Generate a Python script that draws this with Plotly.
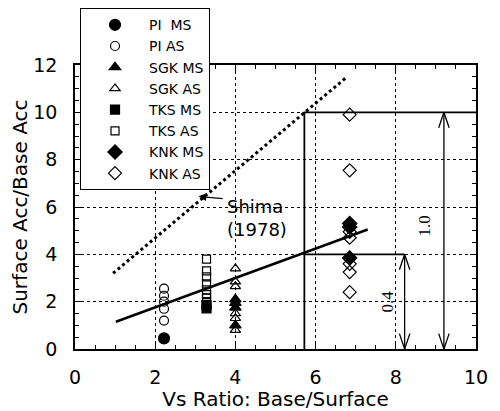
import plotly.graph_objects as go

# ---- data ----
pi_x = 2.22
pi_ms = [0.45]
pi_as = [2.55, 2.25, 2.0, 1.7, 1.2]

tks_x = 3.28
tks_ms = [1.85, 1.72]
tks_as = [3.8, 3.3, 3.05, 2.75, 2.5, 2.3, 2.15, 2.0]

sgk_x = 4.0
sgk_ms = [2.1, 1.95, 1.75, 1.0]
sgk_as = [3.4, 2.85, 2.65, 1.5, 1.3, 0.8]

knk_x = 6.85
knk_ms = [5.3, 5.15, 3.85]
knk_as = [9.9, 7.55, 4.95, 4.7, 3.85, 3.6, 3.25, 2.4]

reg_x = [1.02, 7.3]
reg_y = [1.15, 5.05]

shima_x = [0.95, 6.75]
shima_y = [3.2, 11.45]

bracket_x = 5.72
level_hi = 10.0
level_lo = 4.0
arrow_hi_x = 9.2
arrow_lo_x = 8.22

x_ticks = [0, 2, 4, 6, 8, 10]
y_ticks = [0, 2, 4, 6, 8, 10, 12]

FONT = "DejaVu Sans"

fig = go.Figure()

def add_series(name, x, ys, symbol, size):
    fig.add_trace(go.Scatter(
        x=[x] * len(ys), y=ys, mode="markers", name=name,
        marker=dict(symbol=symbol, size=size, color="black",
                    line=dict(color="black", width=1.2)),
    ))

# lines first (under markers)
fig.add_trace(go.Scatter(x=reg_x, y=reg_y, mode="lines", showlegend=False,
                         line=dict(color="black", width=2.5), hoverinfo="skip"))
fig.add_trace(go.Scatter(x=shima_x, y=shima_y, mode="lines", showlegend=False,
                         line=dict(color="black", width=3, dash="dot"), hoverinfo="skip"))
# bracket lines
fig.add_trace(go.Scatter(
    x=[bracket_x, bracket_x, 10, None, bracket_x, arrow_lo_x],
    y=[0, level_hi, level_hi, None, level_lo, level_lo],
    mode="lines", showlegend=False, line=dict(color="black", width=1.8), hoverinfo="skip"))

# double-headed arrows with open V heads
hw, hh = 0.13, 0.65
ax_list, ay_list = [], []
for ax_, top in [(arrow_lo_x, level_lo), (arrow_hi_x, level_hi)]:
    ax_list += [ax_, ax_, None,
                ax_ - hw, ax_, ax_ + hw, None,
                ax_ - hw, ax_, ax_ + hw, None]
    ay_list += [0, top, None,
                hh, 0, hh, None,
                top - hh, top, top - hh, None]
fig.add_trace(go.Scatter(x=ax_list, y=ay_list, mode="lines", showlegend=False,
                         line=dict(color="black", width=1.3), hoverinfo="skip"))

add_series("PI  MS", pi_x, pi_ms, "circle", 11)
add_series("PI AS", pi_x, pi_as, "circle-open", 9)
add_series("SGK MS", sgk_x, sgk_ms, "triangle-up", 10)
add_series("SGK AS", sgk_x, sgk_as, "triangle-up-open", 9)
add_series("TKS MS", tks_x, tks_ms, "square", 9)
add_series("TKS AS", tks_x, tks_as, "square-open", 8)
add_series("KNK MS", knk_x, knk_ms, "diamond", 11)
add_series("KNK AS", knk_x, knk_as, "diamond-open", 10)

# annotations
fig.add_annotation(x=3.75, y=5.55, xref="x", yref="y", text="Shima<br>(1978)",
                   showarrow=False, xanchor="left", yanchor="middle", align="left",
                   font=dict(family=FONT, size=18, color="black"))
fig.add_annotation(x=3.08, y=6.45, ax=3.72, ay=6.35, xref="x", yref="y",
                   axref="x", ayref="y", text="", showarrow=True,
                   arrowhead=2, arrowsize=1.2, arrowwidth=1.3, arrowcolor="black")
fig.add_annotation(x=8.72, y=5.2, text="1.0", showarrow=False, textangle=-90,
                   font=dict(family="Liberation Serif", size=17, color="black"))
fig.add_annotation(x=7.8, y=2.0, text="0.4", showarrow=False, textangle=-90,
                   font=dict(family="Liberation Serif", size=17, color="black"))

axis_common = dict(
    showline=True, linecolor="black", linewidth=1.5, mirror="ticks",
    ticks="inside", ticklen=6, tickwidth=1, tickcolor="black",
    showgrid=True, gridcolor="black", gridwidth=1, griddash="dot",
    zeroline=False, automargin=False,
    tickfont=dict(family=FONT, size=19, color="black"),
    minor=dict(ticks="inside", ticklen=4, tickwidth=1, tickcolor="black", showgrid=False),
)

fig.update_xaxes(range=[0, 10], tickvals=x_ticks, ticktext=[str(v) for v in x_ticks],
                 minor_dtick=0.5, ticklabelstandoff=10,
                 title=dict(text="Vs Ratio: Base/Surface", standoff=7,
                            font=dict(family=FONT, size=20, color="black")),
                 **axis_common)
fig.update_yaxes(range=[0, 12], tickvals=y_ticks, ticktext=[str(v) for v in y_ticks],
                 minor_dtick=0.5, ticklabelstandoff=12,
                 title=dict(text="Surface Acc/Base Acc", standoff=0,
                            font=dict(family=FONT, size=20, color="black")),
                 **axis_common)

# page body has an 8px margin, so the figure is 492x403 and sits at (8, 8)
fig.update_layout(
    width=492, height=403,
    margin=dict(l=67, r=24, t=57, b=62, autoexpand=False),
    paper_bgcolor="white", plot_bgcolor="white",
    font=dict(family=FONT, color="black"),
    legend=dict(x=0.0125, y=1.2, xanchor="left", yanchor="top",
                bgcolor="white", bordercolor="black", borderwidth=1,
                font=dict(family=FONT, size=14, color="black"),
                itemwidth=58, tracegroupgap=0),
    showlegend=True,
)

fig.write_html("out.html")
